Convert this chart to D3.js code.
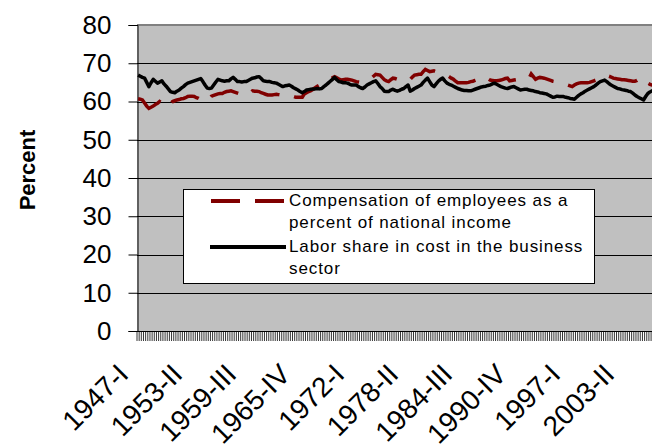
<!DOCTYPE html>
<html>
<head>
<meta charset="utf-8">
<script src="https://cdn.jsdelivr.net/npm/d3@7"></script>
<style>
  html, body { margin: 0; padding: 0; background: #ffffff; }
  svg { display: block; font-family: "Liberation Sans", Arial, sans-serif; }
</style>
</head>
<body>
<svg id="chart" width="652" height="444"></svg>
<script>
// ---- data ----
const years = d3.range(1947, 2007);
const quarterNames = ["I", "II", "III", "IV"];
const categories = years.flatMap(y => quarterNames.map(q => y + "-" + q));

const xTickLabels = ["1947-I", "1953-II", "1959-III", "1965-IV", "1972-I",
                     "1978-II", "1984-III", "1990-IV", "1997-I", "2003-II"];
const yTicks = [0, 10, 20, 30, 40, 50, 60, 70, 80];

const seriesNames = ["Compensation of employees as a percent of national income",
                     "Labor share in cost in the business sector"];

// Compensation of employees as a percent of national income (quarterly)
const compensation = [
  60.7,60.6,60.4,59.6,58.8,58.2,58.5,58.8,59.2,59.5,
  60.0,59.6,59.2,58.8,58.5,59.3,60.0,60.2,60.4,60.5,
  60.7,60.8,61.0,61.3,61.4,61.4,61.3,61.0,60.8,60.5,
  60.3,60.1,60.0,60.7,61.4,61.6,61.8,62.0,62.1,62.1,
  62.4,62.6,62.7,62.8,62.6,62.4,62.2,62.0,61.9,61.8,
  61.7,61.7,62.3,62.8,62.7,62.7,62.6,62.3,62.1,61.9,
  61.7,61.7,61.7,61.8,61.9,61.8,61.7,61.6,61.6,61.7,
  61.7,61.5,61.3,61.1,61.1,61.1,61.1,62.0,62.3,62.6,
  62.8,63.2,63.6,64.0,64.3,64.6,64.9,65.2,65.5,65.8,
  66.2,66.5,66.2,65.9,65.6,65.7,65.8,65.8,65.7,65.6,
  65.4,65.2,65.1,65.0,65.1,65.3,65.5,65.6,66.1,66.6,
  67.1,67.0,66.9,66.3,65.7,65.4,65.2,65.7,66.1,66.0,
  65.8,65.6,65.4,65.3,65.2,65.5,65.8,66.4,66.9,67.0,
  67.1,67.1,67.8,68.4,68.1,67.8,67.9,68.0,67.8,67.7,
  67.6,67.5,67.2,66.9,66.5,66.1,65.8,65.3,64.9,64.9,
  64.9,64.9,64.9,65.0,65.2,65.3,65.5,65.7,65.9,66.1,
  66.3,66.5,66.0,65.6,65.5,65.4,65.4,65.5,65.6,65.8,
  66.0,66.1,65.4,65.5,65.6,65.7,65.8,65.9,66.0,66.0,
  66.1,66.1,67.2,66.5,65.8,66.1,66.3,66.2,66.1,65.9,
  65.7,65.5,65.3,65.2,65.0,64.9,64.8,64.6,64.5,64.3,
  64.1,63.9,64.3,64.6,64.8,64.9,64.9,64.9,64.9,65.0,
  65.2,65.4,65.6,65.8,66.0,66.3,66.6,66.9,66.6,66.4,
  66.1,66.0,65.9,65.8,65.7,65.7,65.6,65.5,65.4,65.3,
  65.3,65.5,65.9,66.3,66.1,65.8,64.8,64.5,64.3,64.2
];

// Labor share in cost in the business sector (quarterly)
const laborShare = [
  66.9,66.6,66.3,66.1,65.0,63.9,64.9,65.8,65.3,64.8,
  65.1,65.4,64.6,64.0,63.3,62.6,62.4,62.3,62.7,63.0,
  63.5,63.9,64.4,64.8,65.0,65.2,65.4,65.6,65.8,66.0,
  65.2,64.3,63.5,63.4,63.5,64.3,65.1,65.8,65.6,65.4,
  65.3,65.4,65.4,65.9,66.3,65.8,65.2,65.2,65.1,65.2,
  65.2,65.5,65.8,66.1,66.2,66.4,66.5,66.0,65.4,65.3,
  65.2,65.2,65.0,64.9,64.8,64.5,64.2,63.9,64.1,64.2,
  64.3,64.0,63.6,63.3,63.0,62.6,62.3,62.6,63.0,63.1,
  63.2,63.3,63.3,63.4,63.3,63.4,63.9,64.3,64.8,65.3,
  65.8,66.3,65.7,65.2,65.1,64.9,64.9,64.8,64.5,64.3,
  64.3,64.3,63.9,63.6,63.4,63.8,64.3,64.6,64.9,65.2,
  65.4,64.7,63.9,63.4,62.7,62.6,62.6,63.0,63.2,62.9,
  62.7,62.9,63.2,63.4,63.9,64.3,62.7,63.0,63.4,63.7,
  64.0,64.3,65.0,65.6,66.1,65.2,64.3,63.9,64.6,65.3,
  65.8,66.1,65.4,64.8,64.5,64.3,64.0,63.7,63.4,63.2,
  63.0,62.9,62.9,62.8,62.8,63.0,63.2,63.4,63.6,63.8,
  63.9,64.0,64.2,64.3,64.6,64.8,64.5,64.2,63.9,63.7,
  63.5,63.4,63.6,63.8,63.9,63.6,63.3,63.0,63.1,63.2,
  63.2,63.0,62.9,62.8,62.6,62.5,62.3,62.2,62.1,62.0,
  61.7,61.4,61.1,61.2,61.4,61.3,61.3,61.3,61.1,61.0,
  60.8,60.7,60.6,61.1,61.6,62.0,62.3,62.7,63.0,63.3,
  63.6,63.9,64.3,64.8,65.2,65.4,65.6,65.2,64.7,64.3,
  64.0,63.7,63.4,63.3,63.1,63.0,62.9,62.7,62.6,62.2,
  61.7,61.3,61.0,60.7,60.4,61.3,62.1,62.5,62.8,63.0
];

// ---- layout ----
const plotLeft = 137, plotTop = 25, plotBottom = 331;
const step = 2.16;
const plotRight = plotLeft + categories.length * step;

const svg = d3.select("#chart");

const x = d3.scaleBand().domain(categories).range([plotLeft, plotRight]).padding(0);
const y = d3.scaleLinear().domain([0, 80]).range([plotBottom, plotTop]);
const bw = x.bandwidth();

// plot area
svg.append("rect")
  .attr("x", plotLeft).attr("y", y(80))
  .attr("width", plotRight - plotLeft).attr("height", y(0) - y(80))
  .attr("fill", "#c0c0c0");

// gridlines
svg.append("g").selectAll("line")
  .data(yTicks.filter(v => v > 0 && v < 80))
  .join("line")
  .attr("x1", plotLeft).attr("x2", plotRight)
  .attr("y1", d => Math.round(y(d)) + 0.5).attr("y2", d => Math.round(y(d)) + 0.5)
  .attr("stroke", "#000").attr("stroke-width", 1);

// top border
svg.append("line")
  .attr("x1", plotLeft).attr("x2", plotRight)
  .attr("y1", y(80)).attr("y2", y(80))
  .attr("stroke", "#808080").attr("stroke-width", 2);

// y axis
const yAxis = svg.append("g")
  .attr("transform", `translate(${plotLeft + 0.5},0)`)
  .call(d3.axisLeft(y).tickValues(yTicks).tickSize(9).tickPadding(17).tickFormat(d3.format("d")));
yAxis.select(".domain").attr("stroke", "#000");
yAxis.selectAll(".tick line").attr("stroke", "#000");
yAxis.selectAll(".tick text")
  .attr("font-size", 26).attr("fill", "#000")
  .attr("font-family", "'Liberation Sans', Arial, sans-serif");

// x axis line
svg.append("line")
  .attr("x1", plotLeft).attr("x2", plotRight)
  .attr("y1", plotBottom + 0.5).attr("y2", plotBottom + 0.5)
  .attr("stroke", "#000");

// x tick marks (between categories)
svg.append("g").selectAll("line")
  .data(categories)
  .join("line")
  .attr("x1", d => x(d)).attr("x2", d => x(d))
  .attr("y1", plotBottom).attr("y2", plotBottom + 10)
  .attr("stroke", "#000").attr("stroke-width", 0.8);

// x tick labels
svg.append("g").selectAll("text")
  .data(xTickLabels)
  .join("text")
  .attr("transform", d => `translate(${x(d) + bw / 2 - 8},${376}) rotate(-45)`)
  .attr("text-anchor", "end")
  .attr("font-size", 28)
  .attr("fill", "#000")
  .text(d => d);

// y axis title
svg.append("text")
  .attr("transform", "translate(35,170) rotate(-90)")
  .attr("text-anchor", "middle")
  .attr("font-size", 22)
  .attr("font-weight", "bold")
  .text("Percent");

// lines
const line = d3.line()
  .x((d, i) => x(categories[i]) + bw / 2)
  .y(d => y(d));

svg.append("path")
  .datum(compensation)
  .attr("d", line)
  .attr("fill", "none")
  .attr("stroke", "#800000")
  .attr("stroke-width", 3.5)
  .attr("stroke-dasharray", "29,15");

svg.append("path")
  .datum(laborShare)
  .attr("d", line)
  .attr("fill", "none")
  .attr("stroke", "#000")
  .attr("stroke-width", 3.5)
  .attr("stroke-linejoin", "round");

// legend
const lg = svg.append("g");
lg.append("rect")
  .attr("x", 183.5).attr("y", 189.5).attr("width", 411).attr("height", 94)
  .attr("fill", "#fff").attr("stroke", "#000");
lg.append("line")
  .attr("x1", 211).attr("x2", 285).attr("y1", 201).attr("y2", 201)
  .attr("stroke", "#800000").attr("stroke-width", 4).attr("stroke-dasharray", "29,15");
lg.append("line")
  .attr("x1", 210).attr("x2", 286).attr("y1", 247).attr("y2", 247)
  .attr("stroke", "#000").attr("stroke-width", 4);
const legendLines = [
  ["Compensation of employees as a", "percent of national income"],
  ["Labor share in cost in the business", "sector"]
];
const legendBaselines = [[206, 228], [252, 274]];
legendLines.forEach((lines, si) => {
  lines.forEach((t, li) => {
    lg.append("text")
      .attr("x", 289).attr("y", legendBaselines[si][li])
      .attr("font-size", 17)
      .attr("letter-spacing", "0.9px")
      .attr("fill", "#000")
      .text(t);
  });
});
</script>
</body>
</html>
